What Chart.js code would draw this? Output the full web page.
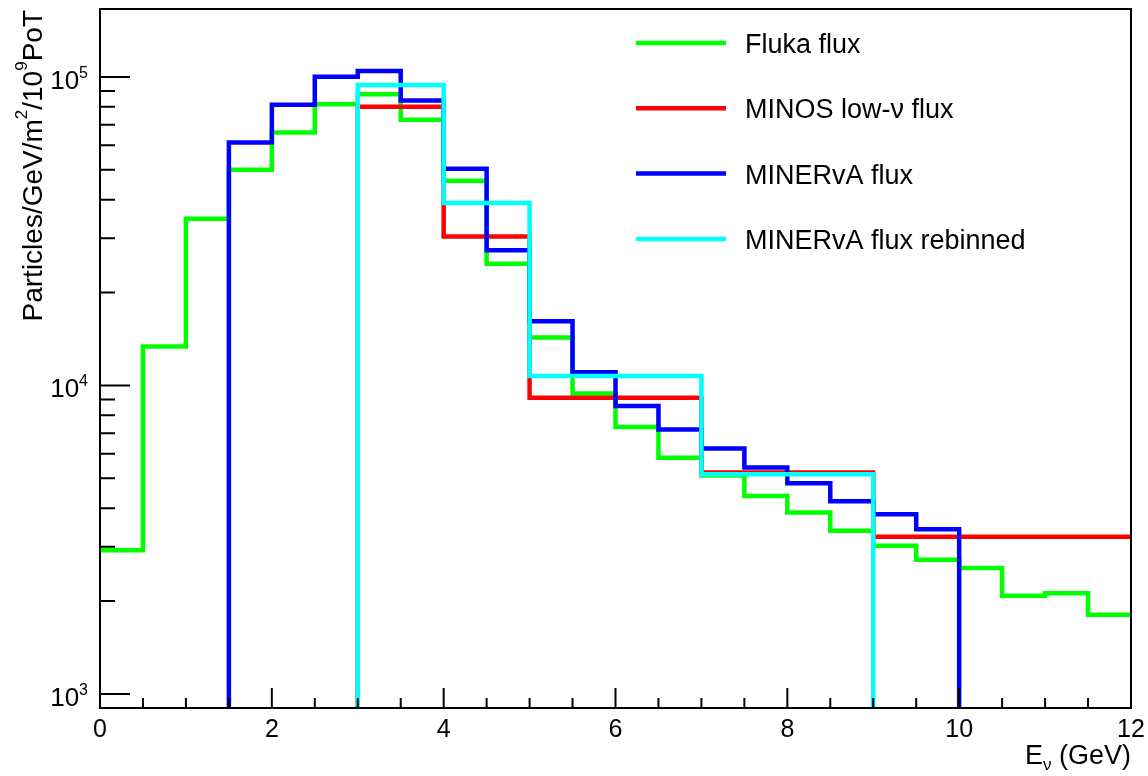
<!DOCTYPE html>
<html>
<head>
<meta charset="utf-8">
<title>Neutrino flux</title>
<script src="https://cdn.jsdelivr.net/npm/chart.js@4.4.1/dist/chart.umd.min.js"></script>
<style>
  html, body { margin: 0; padding: 0; background: #fff; }
  #wrap { width: 1148px; height: 776px; }
</style>
</head>
<body>
<div id="wrap"><canvas id="flux" width="1148" height="776"></canvas></div>
<script>
(function () {
  'use strict';

  const FONT = '"Liberation Sans", Arial, Helvetica, sans-serif';

  // bin edges (GeV) and flux per bin (particles/GeV/m^2/1e9 PoT)
  const FLUKA_EDGES = [0, 0.5, 1, 1.5, 2, 2.5, 3, 3.5, 4, 4.5, 5, 5.5, 6,
                       6.5, 7, 7.5, 8, 8.5, 9, 9.5, 10, 10.5, 11, 11.5, 12];
  const FLUKA_FLUX  = [2920, 13370, 34700, 50000, 66000, 81600, 87900, 72600,
                       46100, 24800, 14300, 9420, 7330, 5830, 5100, 4380,
                       3870, 3380, 3020, 2720, 2560, 2080, 2120, 1805];

  const MINOS_EDGES = [3, 4, 5, 7, 9, 12];
  const MINOS_FLUX  = [80000, 30400, 9120, 5220, 3230];

  const MINERVA_EDGES = [1.5, 2, 2.5, 3, 3.5, 4, 4.5, 5, 5.5, 6, 6.5, 7,
                         7.5, 8, 8.5, 9, 9.5, 10];
  const MINERVA_FLUX  = [61300, 81200, 100200, 104600, 83800, 50400, 27400,
                         16150, 11040, 8570, 7200, 6240, 5420, 4820, 4210,
                         3820, 3420];

  const REBIN_EDGES = [3, 4, 5, 7, 9];
  const REBIN_FLUX  = [94200, 39000, 10720, 5150];

  const SERIES_NAMES = ['Fluka flux', 'MINOS low-\u03bd flux', 'MINERvA flux',
                        'MINERvA flux rebinned'];
  const SERIES_COLORS = ['#00ff00', '#ff0000', '#0000ff', '#00ffff'];

  const X_RANGE  = [0, 12];
  const Y_RANGE  = [900, 166000];
  const X_LABELS = [0, 2, 4, 6, 8, 10, 12];
  const Y_LABELS = [1e3, 1e4, 1e5];

  // outline of a histogram: step at each edge, optional drop to the axis floor
  function histPoints(edges, vals, dropLeft, dropRight) {
    const pts = [];
    const floor = Y_RANGE[0];
    if (dropLeft) pts.push({ x: edges[0], y: floor });
    vals.forEach((v, i) => pts.push({ x: edges[i], y: v }));
    const end = edges[edges.length - 1];
    pts.push({ x: end, y: vals[vals.length - 1] });
    if (dropRight) pts.push({ x: end, y: floor });
    return pts;
  }

  function histDataset(i, pts, order) {
    return {
      label: SERIES_NAMES[i],
      data: pts,
      borderColor: SERIES_COLORS[i],
      borderWidth: 4.5,
      pointRadius: 0,
      stepped: true,
      fill: false,
      tension: 0,
      order: order,
    };
  }

  // text with sub/superscript pieces: [{t, size, dy}]
  function richWidth(ctx, segs) {
    let w = 0;
    segs.forEach(s => { ctx.font = s.size + 'px ' + FONT; w += ctx.measureText(s.t).width; });
    return w;
  }
  function drawRich(ctx, segs, x, y) {
    let cx = x;
    segs.forEach(s => {
      ctx.font = s.size + 'px ' + FONT;
      ctx.fillText(s.t, cx, y + (s.dy || 0));
      cx += ctx.measureText(s.t).width;
    });
  }

  const rootFrame = {
    id: 'rootFrame',
    afterDatasetsDraw(chart) {
      const { ctx, chartArea: a, scales: { x, y } } = chart;
      ctx.save();
      ctx.strokeStyle = '#000';
      ctx.fillStyle = '#000';
      ctx.lineWidth = 2;
      ctx.strokeRect(a.left, a.top, a.right - a.left, a.bottom - a.top);

      // inward ticks, ROOT style
      ctx.beginPath();
      for (let v = X_RANGE[0]; v <= X_RANGE[1]; v += 0.5) {
        const px = x.getPixelForValue(v);
        const len = v % 2 === 0 ? 20 : 10;
        ctx.moveTo(px, a.bottom);
        ctx.lineTo(px, a.bottom - len);
      }
      for (let d = 100; d <= Y_RANGE[1]; d *= 10) {
        for (let m = 1; m < 10; m++) {
          const v = m * d;
          if (v < Y_RANGE[0] || v > Y_RANGE[1]) continue;
          const py = y.getPixelForValue(v);
          ctx.moveTo(a.left, py);
          ctx.lineTo(a.left + (m === 1 ? 30 : 15), py);
        }
      }
      ctx.stroke();

      // x tick labels
      ctx.font = '25px ' + FONT;
      ctx.textAlign = 'center';
      ctx.textBaseline = 'alphabetic';
      X_LABELS.forEach(v => ctx.fillText(String(v), x.getPixelForValue(v), a.bottom + 29));

      // y tick labels as 10^n
      ctx.textAlign = 'left';
      Y_LABELS.forEach(v => {
        const py = y.getPixelForValue(v);
        const segs = [{ t: '10', size: 26 }, { t: String(Math.round(Math.log10(v))), size: 16, dy: -11 }];
        drawRich(ctx, segs, 88 - richWidth(ctx, segs), py + 12);
      });

      // axis titles
      const xt = [{ t: 'E', size: 27 }, { t: '\u03bd', size: 17, dy: 6 }, { t: ' (GeV)', size: 27 }];
      drawRich(ctx, xt, a.right - richWidth(ctx, xt), 764);

      const yt = [{ t: 'Particles/GeV/m', size: 28 }, { t: '2', size: 17, dy: -15 },
                  { t: '/10', size: 28 }, { t: '9', size: 17, dy: -15 }, { t: 'PoT', size: 28 }];
      const yw = richWidth(ctx, yt);
      ctx.save();
      ctx.translate(42, a.top + 1 + yw);
      ctx.rotate(-Math.PI / 2);
      drawRich(ctx, yt, 0, 0);
      ctx.restore();

      // legend
      ctx.font = '27px ' + FONT;
      SERIES_NAMES.forEach((name, i) => {
        const ly = 43 + i * 65.3;
        ctx.strokeStyle = SERIES_COLORS[i];
        ctx.lineWidth = 4.5;
        ctx.beginPath();
        ctx.moveTo(636, ly);
        ctx.lineTo(726, ly);
        ctx.stroke();
        ctx.fillText(name, 745, ly + 10);
      });
      ctx.restore();
    },
  };

  new Chart(document.getElementById('flux'), {
    type: 'line',
    data: {
      datasets: [
        histDataset(0, histPoints(FLUKA_EDGES, FLUKA_FLUX, false, false), 4),
        histDataset(1, histPoints(MINOS_EDGES, MINOS_FLUX, true, false), 3),
        histDataset(2, histPoints(MINERVA_EDGES, MINERVA_FLUX, true, true), 2),
        histDataset(3, histPoints(REBIN_EDGES, REBIN_FLUX, true, true), 1),
      ],
    },
    options: {
      responsive: false,
      animation: false,
      layout: { padding: { left: 100, right: 17, top: 9, bottom: 68 } },
      scales: {
        x: { type: 'linear', min: X_RANGE[0], max: X_RANGE[1], display: false },
        y: { type: 'logarithmic', min: Y_RANGE[0], max: Y_RANGE[1], display: false },
      },
      plugins: {
        legend: { display: false },
        tooltip: { enabled: false },
      },
    },
    plugins: [rootFrame],
  });
})();
</script>
</body>
</html>
